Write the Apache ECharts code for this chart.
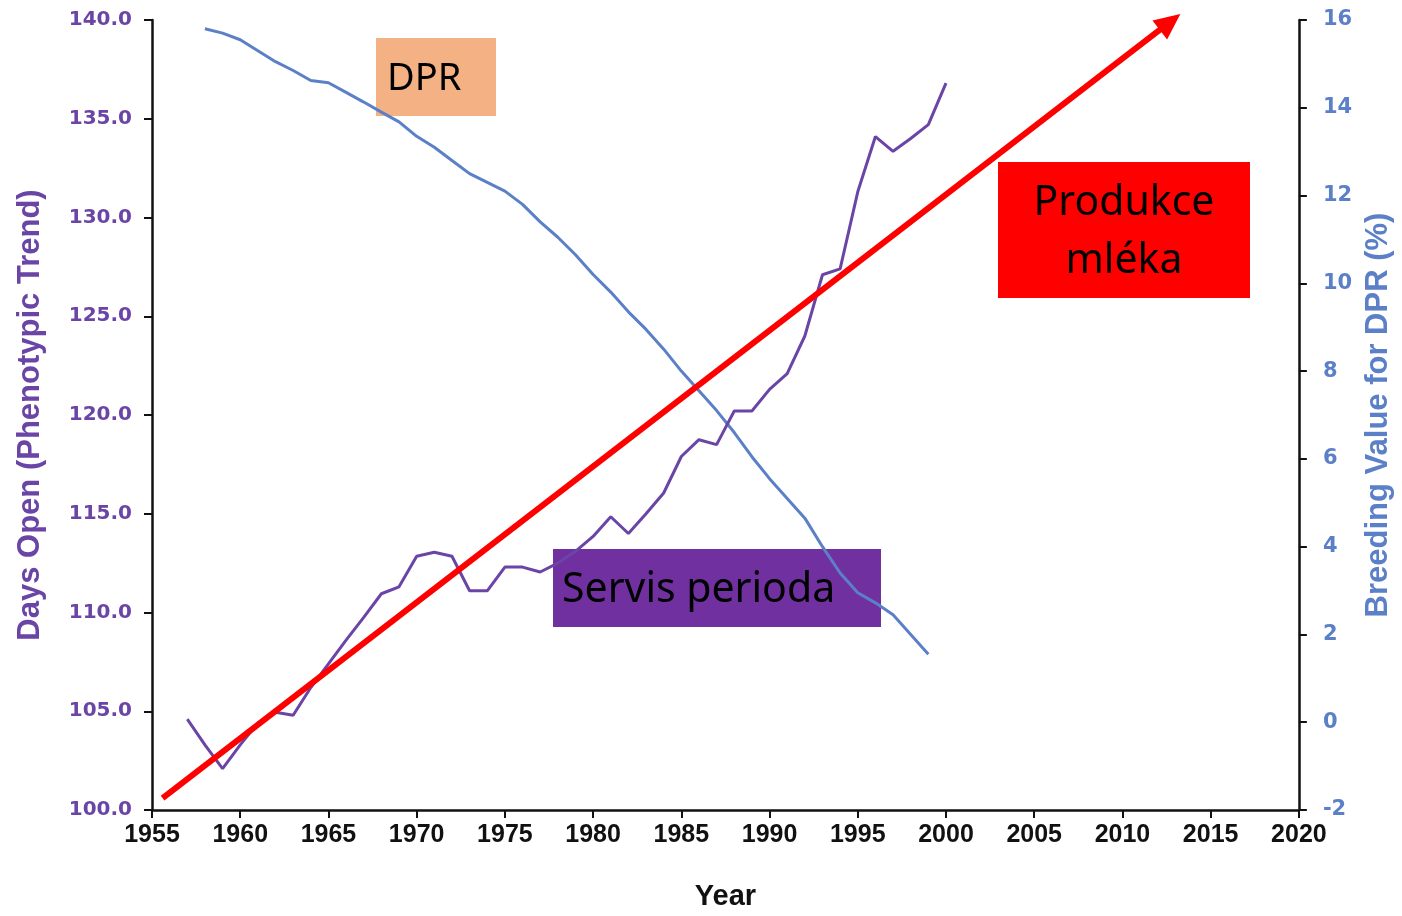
<!DOCTYPE html>
<html lang="cs">
<head>
    <meta charset="UTF-8">
    <title>Days Open vs DPR</title>
    <script type="text/javascript" src="https://cdn.jsdelivr.net/npm/echarts@6.0.0/dist/echarts.min.js"></script>
    <style>
        html, body { margin: 0; padding: 0; background: #fff; }
    </style>
</head>
<body>
<div id="main" style="width: 1402px;height:916px;"></div>
<script>

    // servis perioda (days open), 1957 - 2000
    var openYears = [];
    for (var y = 1957; y <= 2000; y++) openYears.push(y);
    var daysOpen = [104.6, 103.3, 102.1, 103.3, 104.4, 104.95, 104.8, 106.2, 107.4, 108.6,
        109.75, 110.95, 111.3, 112.85, 113.05, 112.85, 111.1, 111.1, 112.3, 112.3,
        112.05, 112.5, 113.1, 113.85, 114.85, 114.0, 115.0, 116.05, 117.9, 118.75,
        118.5, 120.2, 120.2, 121.3, 122.1, 124.0, 127.1, 127.4, 131.3, 134.1,
        133.35, 134.0, 134.7, 136.8];

    // DPR breeding value, 1958 - 1999
    var dprYears = [];
    for (var y2 = 1958; y2 <= 1999; y2++) dprYears.push(y2);
    var dprValue = [15.8, 15.7, 15.55, 15.3, 15.05, 14.85, 14.62, 14.57, 14.35, 14.13,
        13.9, 13.68, 13.35, 13.1, 12.8, 12.5, 12.3, 12.1, 11.8, 11.4,
        11.05, 10.65, 10.2, 9.8, 9.35, 8.95, 8.5, 8.0, 7.55, 7.1,
        6.6, 6.05, 5.55, 5.1, 4.65, 4.0, 3.4, 2.95, 2.72, 2.45,
        2.0, 1.55];

    // trend arrow (produkce mleka), [year, days open axis]
    var arrowStart = [1955.6, 100.6];
    var arrowEnd = [2012.7, 139.9];

    var purple = '#6b45a6';
    var blue = '#5b80c8';

    function pairs(xs, ys) {
        var out = [];
        for (var i = 0; i < xs.length; i++) out.push([xs[i], ys[i]]);
        return out;
    }

    function arrowData(rot) {
        return [
            { value: arrowStart, symbol: 'none' },
            { value: arrowEnd, symbol: 'triangle', symbolSize: [24, 26], symbolRotate: rot }
        ];
    }

    var myChart = echarts.init(document.getElementById('main'));

    var option = {
        animation: false,
        backgroundColor: '#fff',
        grid: { left: 152, right: 100, top: 20, bottom: 103 },
        xAxis: {
            type: 'value',
            min: 1955, max: 2020, interval: 5,
            name: 'Year',
            nameLocation: 'middle',
            nameGap: 72,
            nameTextStyle: { color: '#111', fontSize: 29, fontWeight: 'bold', fontFamily: 'Liberation Sans' },
            axisLine: { onZero: false, lineStyle: { color: '#111', width: 2.5 } },
            axisTick: { length: 8, lineStyle: { color: '#111', width: 2 } },
            axisLabel: {
                color: '#111', fontSize: 25, fontWeight: 'bold', fontFamily: 'Liberation Sans', margin: 13,
                formatter: function (v) { return String(v); }
            },
            splitLine: { show: false }
        },
        yAxis: [
            {
                type: 'value',
                min: 100, max: 140, interval: 5,
                name: 'Days Open (Phenotypic Trend)',
                nameLocation: 'middle',
                nameGap: 106,
                nameTextStyle: { color: purple, fontSize: 31, fontWeight: 'bold', fontFamily: 'Liberation Sans' },
                axisLine: { show: true, onZero: false, lineStyle: { color: '#111', width: 2.5 } },
                axisTick: { show: true, length: 8, lineStyle: { color: '#111', width: 2 } },
                axisLabel: {
                    color: purple, fontSize: 20, fontWeight: 'bold', fontFamily: 'DejaVu Sans', margin: 20,
                    formatter: function (v) { return v.toFixed(1); }
                },
                splitLine: { show: false }
            },
            {
                type: 'value',
                min: -2, max: 16, interval: 2,
                position: 'right',
                name: 'Breeding Value for DPR (%)',
                nameLocation: 'middle',
                nameGap: 64,
                nameRotate: 90,
                nameTextStyle: { color: blue, fontSize: 31, fontWeight: 'bold', fontFamily: 'Liberation Sans' },
                axisLine: { show: true, onZero: false, lineStyle: { color: '#111', width: 2.5 } },
                axisTick: { show: true, length: 8, lineStyle: { color: '#111', width: 2 } },
                axisLabel: { color: blue, fontSize: 21, fontWeight: 'bold', fontFamily: 'DejaVu Sans', margin: 24 },
                splitLine: { show: false }
            }
        ],
        series: [
            {
                name: 'DPR',
                type: 'line',
                yAxisIndex: 1,
                showSymbol: false,
                lineStyle: { color: blue, width: 3 },
                data: pairs(dprYears, dprValue)
            },
            {
                name: 'Days Open',
                type: 'line',
                yAxisIndex: 0,
                showSymbol: false,
                lineStyle: { color: purple, width: 3 },
                data: pairs(openYears, daysOpen)
            },
            {
                name: 'arrow',
                type: 'line',
                yAxisIndex: 0,
                clip: false,
                z: 5,
                showSymbol: true,
                showAllSymbol: true,
                itemStyle: { color: '#ff0000' },
                lineStyle: { color: '#ff0000', width: 6 },
                data: arrowData(0)
            }
        ],
        graphic: [
            {
                type: 'group', left: 376, top: 38,
                children: [
                    { type: 'rect', shape: { width: 120, height: 78 }, style: { fill: '#f4b183' } },
                    { type: 'text', x: 11, y: 41, style: { text: 'DPR', font: '38px "Noto Sans"', fill: '#000', verticalAlign: 'middle' } }
                ]
            },
            {
                type: 'group', left: 998, top: 162,
                children: [
                    { type: 'rect', shape: { width: 252, height: 136 }, style: { fill: '#ff0000' } },
                    { type: 'text', x: 126, y: 70, style: { text: 'Produkce\nmléka', font: '41px "Noto Sans"', lineHeight: 58, fill: '#000', align: 'center', verticalAlign: 'middle' } }
                ]
            },
            {
                type: 'group', left: 553, top: 549,
                children: [
                    { type: 'rect', shape: { width: 328, height: 78 }, style: { fill: '#7030a0' } },
                    { type: 'text', x: 9, y: 41, style: { text: 'Servis perioda', font: '41px "Noto Sans"', fill: '#000', verticalAlign: 'middle' } }
                ]
            }
        ]
    };

    myChart.setOption(option);

    // turn the arrow head along the line, angle taken from the axes
    var p0 = myChart.convertToPixel({ xAxisIndex: 0, yAxisIndex: 0 }, arrowStart);
    var p1 = myChart.convertToPixel({ xAxisIndex: 0, yAxisIndex: 0 }, arrowEnd);
    var ang = Math.atan2(p0[1] - p1[1], p1[0] - p0[0]) * 180 / Math.PI;
    myChart.setOption({ series: [{}, {}, { data: arrowData(ang - 90) }] });

</script>
</body>
</html>
